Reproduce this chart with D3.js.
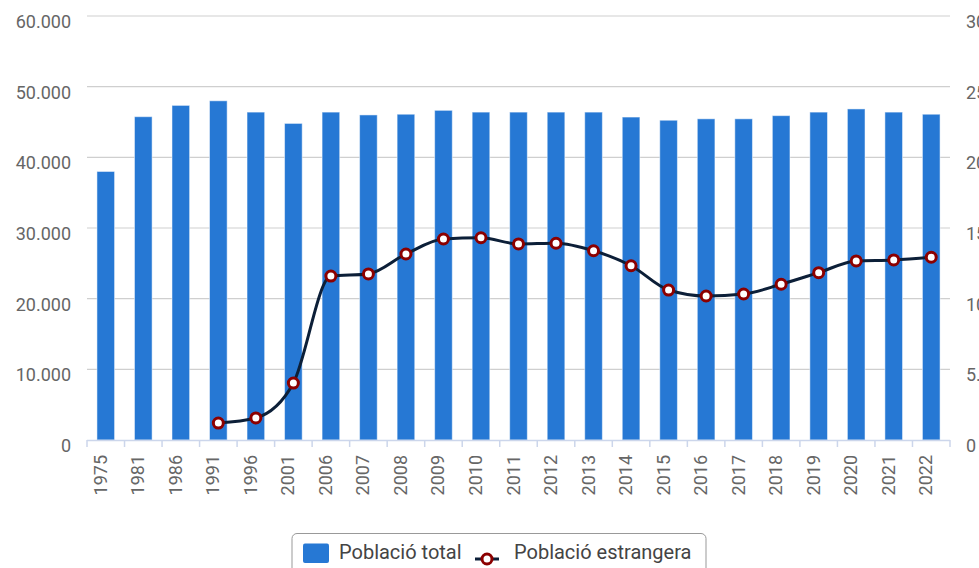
<!DOCTYPE html>
<html>
<head>
<meta charset="utf-8">
<script src="https://cdn.jsdelivr.net/npm/d3@7"></script>
<style>
  body { margin: 0; background: #fff; }
  svg { display: block; font-family: Roboto, "Noto Sans", sans-serif; }
</style>
</head>
<body>
<svg id="chart" width="979" height="568"></svg>
<script>
const years = ['1975', '1981', '1986', '1991', '1996', '2001', '2006', '2007', '2008', '2009', '2010', '2011',
  '2012', '2013', '2014', '2015', '2016', '2017', '2018', '2019', '2020', '2021', '2022'];
const totalPop = [38000, 45750, 47350, 48000, 46400, 44800, 46400, 46000, 46100, 46650, 46400, 46400,
  46400, 46400, 45700, 45250, 45450, 45450, 45900, 46400, 46850, 46400, 46100];
const foreignPop = [null, null, null, 1200, 1560, 4030, 11600, 11750, 13160, 14220, 14310, 13870,
  13920, 13390, 12330, 10610, 10190, 10330, 11020, 11840, 12670, 12740, 12930];
const leftTicks = [0, 10000, 20000, 30000, 40000, 50000, 60000];
const rightTicks = [0, 5000, 10000, 15000, 20000, 25000, 30000];
const seriesNames = ['Població total', 'Població estrangera'];

const svg = d3.select('#chart');
const plotLeft = 87, plotRight = 950, plotTop = 16, plotBottom = 440;

const loc = d3.formatLocale({decimal: ',', thousands: '.', grouping: [3], currency: ['', '€']});
const fmt = loc.format(',');

const x = d3.scaleBand().domain(years).range([plotLeft, plotRight]).paddingInner(0.53).paddingOuter(0.265);
const yL = d3.scaleLinear().domain([0, 60000]).range([plotBottom, plotTop]);
const yR = d3.scaleLinear().domain([0, 30000]).range([plotBottom, plotTop]);

// gridlines
svg.append('g')
  .selectAll('line')
  .data(leftTicks.filter(d => d > 0))
  .join('line')
  .attr('x1', plotLeft).attr('x2', plotRight)
  .attr('y1', d => yL(d)).attr('y2', d => yL(d))
  .attr('stroke', '#cfcfcf').attr('stroke-width', 1.2);

// left axis labels
svg.append('g')
  .selectAll('text')
  .data(leftTicks)
  .join('text')
  .attr('x', 71).attr('y', d => yL(d) + 12)
  .attr('text-anchor', 'end')
  .attr('font-size', 18).attr('fill', '#666')
  .text(d => fmt(d));

// right axis labels, cut by the page edge like in the original
svg.append('g')
  .selectAll('text')
  .data(rightTicks)
  .join('text')
  .attr('x', 966).attr('y', d => yR(d) + 12)
  .attr('font-size', 18).attr('fill', '#666')
  .text(d => fmt(d));

// bars
svg.append('g')
  .selectAll('rect')
  .data(years)
  .join('rect')
  .attr('x', d => x(d))
  .attr('width', x.bandwidth())
  .attr('y', (d, i) => yL(totalPop[i]))
  .attr('height', (d, i) => plotBottom - yL(totalPop[i]))
  .attr('fill', '#2678d4')
  .attr('stroke', '#fff').attr('stroke-opacity', 0.5).attr('stroke-width', 1);

// x axis
const xAxis = svg.append('g');
xAxis.append('line')
  .attr('x1', plotLeft).attr('x2', plotRight)
  .attr('y1', plotBottom + 0.5).attr('y2', plotBottom + 0.5)
  .attr('stroke', '#ccd6eb').attr('stroke-width', 1.5);
const step = x.step();
xAxis.selectAll('line.tick')
  .data(d3.range(years.length + 1))
  .join('line')
  .attr('class', 'tick')
  .attr('x1', i => plotLeft + i * step).attr('x2', i => plotLeft + i * step)
  .attr('y1', plotBottom).attr('y2', plotBottom + 7)
  .attr('stroke', '#ccd6eb').attr('stroke-width', 1.5);
xAxis.selectAll('text')
  .data(years)
  .join('text')
  .attr('transform', d => `translate(${x(d) + x.bandwidth() / 2 + 1},455) rotate(-90)`)
  .attr('text-anchor', 'end')
  .attr('font-size', 18).attr('fill', '#666')
  .text(d => d);

// foreign population line
const pts = years.map((y, i) => ({year: y, v: foreignPop[i]})).filter(d => d.v != null);
const line = d3.line()
  .x(d => x(d.year) + x.bandwidth() / 2)
  .y(d => yR(d.v))
  .curve(d3.curveMonotoneX);

svg.append('path')
  .datum(pts)
  .attr('d', line)
  .attr('fill', 'none')
  .attr('stroke', '#0c1f38').attr('stroke-width', 3);

svg.append('g')
  .selectAll('circle')
  .data(pts)
  .join('circle')
  .attr('cx', d => x(d.year) + x.bandwidth() / 2)
  .attr('cy', d => yR(d.v))
  .attr('r', 5)
  .attr('fill', '#fff')
  .attr('stroke', '#8c0000').attr('stroke-width', 3);

// legend
const lg = svg.append('g');
lg.append('rect')
  .attr('x', 292).attr('y', 533.5).attr('width', 414).attr('height', 45)
  .attr('rx', 5)
  .attr('fill', '#fff').attr('stroke', '#999').attr('stroke-width', 1);
lg.append('rect')
  .attr('x', 303).attr('y', 543.5).attr('width', 26).attr('height', 19.5).attr('rx', 2)
  .attr('fill', '#2678d4');
lg.append('text')
  .attr('x', 339).attr('y', 559)
  .attr('font-size', 20).attr('fill', '#444')
  .text(seriesNames[0]);
lg.append('line')
  .attr('x1', 475).attr('x2', 499).attr('y1', 559).attr('y2', 559)
  .attr('stroke', '#0c1f38').attr('stroke-width', 3);
lg.append('circle')
  .attr('cx', 487).attr('cy', 559).attr('r', 5)
  .attr('fill', '#fff').attr('stroke', '#8c0000').attr('stroke-width', 3);
lg.append('text')
  .attr('x', 514).attr('y', 559)
  .attr('font-size', 20).attr('fill', '#444')
  .text(seriesNames[1]);
</script>
</body>
</html>
